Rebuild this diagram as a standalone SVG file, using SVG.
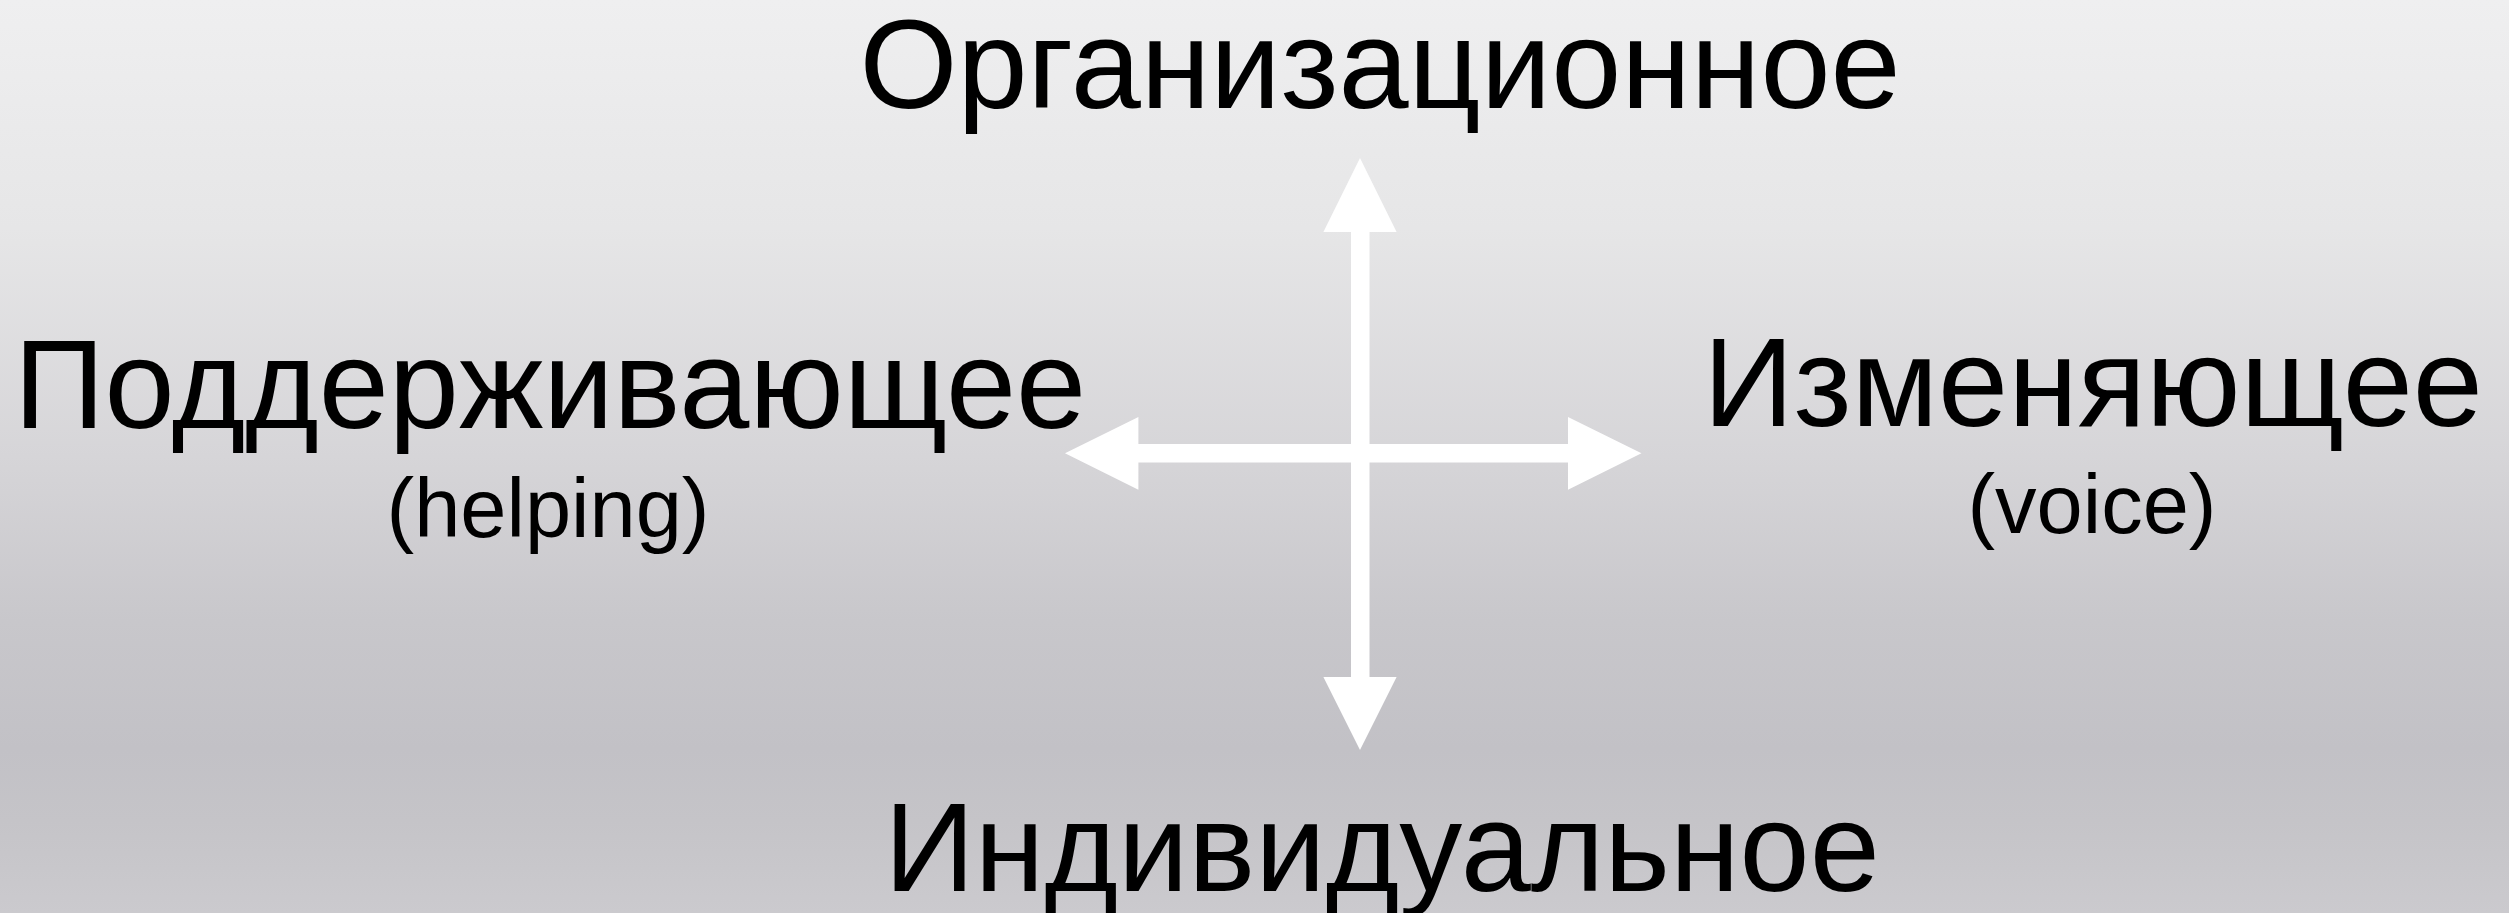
<svg xmlns="http://www.w3.org/2000/svg" width="2509" height="913" viewBox="0 0 2509 913">
  <defs>
    <linearGradient id="bg" x1="0" y1="0" x2="0" y2="1">
      <stop offset="0" stop-color="#efeff0"/>
      <stop offset="0.25" stop-color="#e6e6e7"/>
      <stop offset="0.5" stop-color="#d6d5d8"/>
      <stop offset="0.68" stop-color="#c8c7cb"/>
      <stop offset="0.82" stop-color="#c2c1c6"/>
      <stop offset="0.9" stop-color="#c5c4c8"/>
      <stop offset="1" stop-color="#cbcace"/>
    </linearGradient>
    <style>
      .main { font-family: "Liberation Sans", Arial, sans-serif; font-size: 126px; fill: #000; text-anchor: middle; }
      .sub { font-family: "Liberation Sans", Arial, sans-serif; font-size: 83px; fill: #000; text-anchor: middle; }
      .arrow { fill: #ffffff; stroke: none; }
    </style>
  </defs>
  <rect x="0" y="0" width="2509" height="913" fill="url(#bg)"/>
  <g id="connectors">
    <path class="arrow" d="M1360,158 L1396.6,232 L1369.5,232 L1369.5,677 L1396.6,677 L1360,750 L1323.4,677 L1351,677 L1351,232 L1323.4,232 Z"/>
    <path class="arrow" d="M1065,453.3 L1138.4,416.9 L1138.4,444.1 L1568,444.1 L1568,416.9 L1641.5,453.3 L1568,489.7 L1568,462.5 L1138.4,462.5 L1138.4,489.7 Z"/>
  </g>
  <g id="node-top">
    <text class="main" x="1380" y="108">Организационное</text>
  </g>
  <g id="node-left">
    <text class="main" x="550" y="428">Поддерживающее</text>
    <text class="sub" x="548" y="537">(helping)</text>
  </g>
  <g id="node-right">
    <text class="main" x="2093" y="426">Изменяющее</text>
    <text class="sub" x="2092" y="533">(voice)</text>
  </g>
  <g id="node-bottom">
    <text class="main" x="1382" y="891">Индивидуальное</text>
  </g>
</svg>
